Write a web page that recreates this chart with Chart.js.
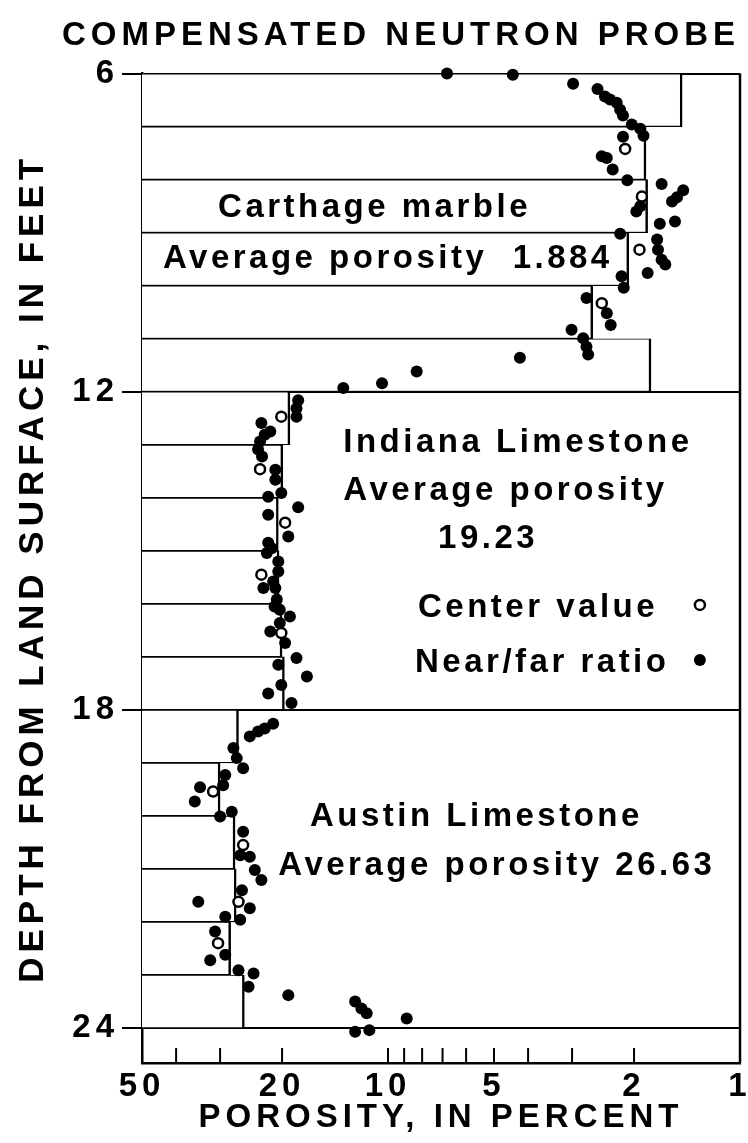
<!DOCTYPE html>
<html>
<head>
<meta charset="utf-8">
<title>Compensated neutron probe</title>
<script src="https://cdn.jsdelivr.net/npm/chart.js@4.4.1/dist/chart.umd.min.js"></script>
<style>
  html, body { margin: 0; padding: 0; background: #fff; }
  canvas { display: block; }
</style>
</head>
<body>
<canvas id="porosityChart" width="748" height="1143"></canvas>
<script>
// middle of each 1-ft depth interval, in feet
var barDepth = [6.5, 7.5, 8.5, 9.5, 10.5, 11.5,
                12.5, 13.5, 14.5, 15.5, 16.5, 17.5,
                18.5, 19.5, 20.5, 21.5, 22.5, 23.5];
// porosity of each interval, in percent (bars start at 50)
var barPorosity = [1.46, 1.85, 1.83, 2.07, 2.62, 1.79,
                   19.0, 19.9, 20.5, 20.4, 20.0, 19.7,
                   26.6, 30.0, 27.2, 27.0, 28.0, 25.6];

// near/far ratio readings
var nearFarPorosity = [
  6.8, 4.42, 2.98, 2.54, 2.42, 2.34, 2.24, 2.19, 2.15, 2.03, 1.92, 1.88, 2.15, 2.47, 2.39, 2.30,
  2.09, 1.67, 1.45, 1.51, 1.56, 1.92, 1.97, 1.53, 1.69, 2.19, 1.72, 1.71, 1.67, 1.63, 1.83, 2.17,
  2.14, 2.73, 2.39, 2.33, 3.01, 2.79, 2.73, 2.70, 4.22, 8.29, 10.4, 13.4,
  18.0, 18.2, 18.2, 22.9, 21.6, 22.4, 23.1, 23.4, 22.8, 20.9, 20.9, 20.1, 21.9, 18.0, 21.9, 19.2,
  21.9, 22.1, 20.5, 20.5, 22.6, 20.9, 20.7, 20.3, 19.0, 20.3, 21.6, 19.6, 18.2, 20.5, 17.0, 20.1,
  21.9, 18.8, 21.2, 21.0, 21.4,
  21.2, 22.4, 23.4, 24.7, 27.5, 26.9, 25.8, 29.0, 29.4, 34.2, 35.4, 30.0, 27.8, 25.8, 26.3, 24.7,
  23.9, 22.9, 26.0, 34.6, 24.7, 29.0, 26.3, 31.0, 29.0, 32.0, 26.6, 24.1, 24.9, 19.2, 12.4, 11.9,
  11.5, 8.85, 12.4, 11.3
];
var nearFarDepth = [
  6.0, 6.02, 6.19, 6.29, 6.43, 6.49, 6.55, 6.68, 6.79, 6.96, 7.04, 7.17, 7.19, 7.56, 7.59, 7.81,
  8.01, 8.08, 8.20, 8.33, 8.41, 8.50, 8.60, 8.79, 8.83, 9.02, 9.13, 9.32, 9.51, 9.60, 9.76, 9.82,
  10.04, 10.23, 10.52, 10.74, 10.83, 10.99, 11.15, 11.30, 11.36, 11.62, 11.84, 11.93,
  12.16, 12.31, 12.47, 12.59, 12.75, 12.81, 12.94, 13.09, 13.22, 13.47, 13.66, 13.91, 13.98, 14.18, 14.32, 14.73,
  14.85, 15.04, 15.20, 15.39, 15.70, 15.70, 15.92, 16.11, 16.24, 16.36, 16.52, 16.74, 17.02, 17.15, 17.37, 17.53,
  17.69, 17.87, 15.58, 16.05, 14.95,
  18.26, 18.35, 18.41, 18.50, 18.72, 18.91, 19.10, 19.23, 19.42, 19.46, 19.73, 20.01, 19.92, 20.30, 20.74, 20.77,
  21.02, 21.21, 21.40, 21.62, 21.74, 21.90, 21.96, 22.18, 22.62, 22.72, 22.91, 22.97, 23.22, 23.38, 23.50, 23.63,
  23.72, 23.82, 24.07, 24.04
];

// center value readings
var centerPorosity = [2.12, 1.90, 1.93, 2.47, 20.1, 23.1, 19.6, 22.9, 20.1, 31.4, 25.8, 26.6, 30.4];
var centerDepth = [7.42, 8.32, 9.32, 10.33, 12.47, 13.46, 14.47, 15.45, 16.55, 19.54, 20.55, 21.62, 22.40];

var depthTicks = [6, 12, 18, 24];
var porosityLabels = [50, 20, 10, 5, 2, 1];
var porosityMarks = [50, 40, 30, 20, 10, 9, 8, 7, 6, 5, 4, 3, 2];

// texts written inside the plot: left edge (porosity), baseline (depth)
var notes = [
  { text: "Carthage marble", x: 30.4, y: 8.70 },
  { text: "Average porosity  1.884", x: 43.6, y: 9.66 },
  { text: "Indiana Limestone", x: 13.4, y: 13.13 },
  { text: "Average porosity", x: 13.4, y: 14.04 },
  { text: "19.23", x: 7.21, y: 14.94 },
  { text: "Center value", x: 8.22, y: 16.25 },
  { text: "Near/far ratio", x: 8.38, y: 17.28 },
  { text: "Austin Limestone", x: 16.66, y: 20.19 },
  { text: "Average porosity 26.63", x: 20.5, y: 21.11 }
];

var FONT = "'Liberation Sans', Arial, Helvetica, sans-serif";
Chart.defaults.font.family = FONT;
Chart.defaults.color = "#000";

// zones de texte + cadre
const extras = {
  id: "extras",
  beforeLayout(chart) { chart.ctx.letterSpacing = "5px"; },
  beforeDraw(chart) { chart.ctx.letterSpacing = "5px"; },
  afterDatasetsDraw(chart) {
    const ctx = chart.ctx;
    const xs = chart.scales.x;
    const ys = chart.scales.y;
    const area = chart.chartArea;
    ctx.save();
    ctx.strokeStyle = "#000";
    // right side of the frame
    ctx.lineWidth = 2.5;
    ctx.beginPath();
    ctx.moveTo(area.right, area.top);
    ctx.lineTo(area.right, area.bottom);
    ctx.stroke();
    // small ticks along the bottom, inside the frame
    ctx.lineWidth = 2;
    porosityMarks.forEach((v) => {
      const px = xs.getPixelForValue(v);
      ctx.beginPath();
      ctx.moveTo(px, area.bottom);
      ctx.lineTo(px, area.bottom - 15);
      ctx.stroke();
    });
    // texts
    ctx.letterSpacing = "3.5px";
    ctx.fillStyle = "#000";
    ctx.font = "bold 33px " + FONT;
    ctx.textAlign = "left";
    ctx.textBaseline = "alphabetic";
    notes.forEach((n) => {
      ctx.fillText(n.text, xs.getPixelForValue(n.x), ys.getPixelForValue(n.y));
    });
    // legend symbols
    const lx = xs.getPixelForValue(1.30);
    ctx.lineWidth = 2.5;
    ctx.fillStyle = "#fff";
    ctx.beginPath();
    ctx.arc(lx, ys.getPixelForValue(16.02), 5, 0, Math.PI * 2);
    ctx.fill();
    ctx.stroke();
    ctx.fillStyle = "#000";
    ctx.beginPath();
    ctx.arc(lx, ys.getPixelForValue(17.06), 6, 0, Math.PI * 2);
    ctx.fill();
    ctx.restore();
  }
};

const ctx = document.getElementById("porosityChart").getContext("2d");
const porosityChart = new Chart(ctx, {
  type: "scatter",
  data: {
    datasets: [
      {
        type: "scatter",
        label: "Center value",
        data: centerPorosity.map((p, i) => ({ x: p, y: centerDepth[i] })),
        pointRadius: 5,
        pointBackgroundColor: "#fff",
        pointBorderColor: "#000",
        pointBorderWidth: 2.5,
        clip: false,
        order: 0
      },
      {
        type: "scatter",
        label: "Near/far ratio",
        data: nearFarPorosity.map((p, i) => ({ x: p, y: nearFarDepth[i] })),
        pointRadius: 6,
        pointBackgroundColor: "#000",
        pointBorderWidth: 0,
        clip: false,
        order: 1
      },
      {
        type: "bar",
        label: "Interval",
        indexAxis: "y",
        data: barPorosity.map((p, i) => ({ x: [50, p], y: barDepth[i] })),
        backgroundColor: "#fff",
        borderColor: "#000",
        borderWidth: { top: 1.2, bottom: 1.2, left: 0, right: 2.5 },
        borderSkipped: false,
        barPercentage: 1,
        categoryPercentage: 1,
        order: 2
      }
    ]
  },
  options: {
    responsive: false,
    animation: false,
    layout: { padding: { left: 0, right: 8, top: 0, bottom: 0 } },
    plugins: {
      legend: { display: false },
      tooltip: { enabled: false },
      title: {
        display: true,
        text: "COMPENSATED NEUTRON PROBE",
        align: "end",
        color: "#000",
        font: { size: 33, weight: "bold" },
        padding: { top: 16, bottom: 18 }
      }
    },
    scales: {
      x: {
        type: "logarithmic",
        min: 1,
        max: 50,
        reverse: true,
        offset: false,
        afterBuildTicks: (scale) => { scale.ticks = porosityLabels.map((v) => ({ value: v })); },
        afterFit: (scale) => { scale.height = 80; scale.paddingLeft = 0; scale.paddingRight = 0; },
        grid: { display: false, drawTicks: false, offset: false },
        border: { display: true, color: "#000", width: 2.5 },
        ticks: {
          autoSkip: false,
          maxRotation: 0,
          padding: 4,
          font: { size: 33, weight: "bold" },
          callback: (v) => String(v)
        },
        title: {
          display: true,
          text: "POROSITY, IN PERCENT",
          font: { size: 33, weight: "bold" },
          padding: { top: 0, bottom: 5 }
        }
      },
      y: {
        type: "linear",
        min: 6,
        max: 24.66,
        reverse: true,
        offset: false,
        afterBuildTicks: (scale) => { scale.ticks = depthTicks.map((v) => ({ value: v })); },
        afterFit: (scale) => { scale.width = 142; },
        grid: { color: "#000", lineWidth: 2, tickLength: 20, drawOnChartArea: true, offset: false },
        border: { display: true, color: "#000", width: 2.5 },
        ticks: {
          padding: 3,
          font: { size: 33, weight: "bold" },
          callback: (v) => String(v)
        },
        title: {
          display: true,
          text: "DEPTH FROM LAND SURFACE, IN FEET",
          font: { size: 35, weight: "bold" },
          padding: { top: 12 }
        }
      }
    }
  },
  plugins: [extras]
});
</script>
</body>
</html>
